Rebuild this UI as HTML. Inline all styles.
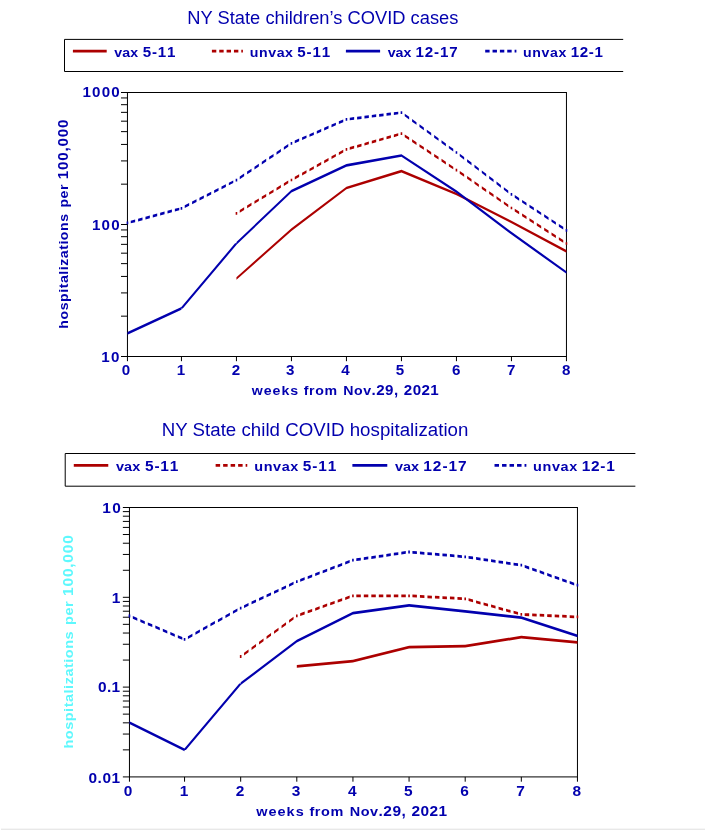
<!DOCTYPE html>
<html lang="en">
<head>
<meta charset="utf-8">
<title>NY State children's COVID cases and hospitalization</title>
<style>
html,body{margin:0;padding:0;background:#fff;}
body{width:705px;height:830px;overflow:hidden;}
svg{display:block;font-family:"Liberation Sans", sans-serif;}
text{white-space:pre;}
</style>
</head>
<body>
<svg width="705" height="830" viewBox="0 0 705 830">
<rect x="0" y="0" width="705" height="830" fill="#fff"/>
<g id="cases">
<text x="187.3" y="23.7" font-size="18.3" textLength="271.1" lengthAdjust="spacing" fill="#0200ae">NY State children’s COVID cases</text>
<path d="M623.2 39.4 H64.5 V71.5 H623.2" fill="none" stroke="#000" stroke-width="1"/>
<path d="M72.9 49.85L106.7 49.85L106.7 52.55L72.9 52.55Z" fill="#ac0000"/>
<text transform="translate(114.24 56.7) scale(1.09 1)" x="0 7.33 14.66 22.21 26.14 34.56 39.88 48.3" y="0" font-size="13" font-weight="bold" fill="#0200ae">vax <tspan font-size="13.9">5-11</tspan></text>
<path d="M211.9 49.85L216.3 49.85L216.3 52.55L211.9 52.55ZM219.25 49.85L223.65 49.85L223.65 52.55L219.25 52.55ZM226.6 49.85L231 49.85L231 52.55L226.6 52.55ZM233.95 49.85L238.35 49.85L238.35 52.55L233.95 52.55ZM241.3 49.85L242.9 49.85L242.9 52.55L241.3 52.55Z" fill="#ac0000"/>
<text transform="translate(249.72 56.7) scale(1.09 1)" x="0 8.48 16.95 24.71 32.48 39.89 43.68 52.2 57.61 66.12" y="0" font-size="13" font-weight="bold" fill="#0200ae">unvax <tspan font-size="13.9">5-11</tspan></text>
<path d="M345.9 49.85L380.1 49.85L380.1 52.55L345.9 52.55Z" fill="#0200ae"/>
<text transform="translate(387.74 56.7) scale(1.09 1)" x="0 7.19 14.38 21.72 25.44 33.98 42.53 47.97 56.51" y="0" font-size="13" font-weight="bold" fill="#0200ae">vax <tspan font-size="13.9">12-17</tspan></text>
<path d="M485.2 49.85L489.6 49.85L489.6 52.55L485.2 52.55ZM492.55 49.85L496.95 49.85L496.95 52.55L492.55 52.55ZM499.9 49.85L504.3 49.85L504.3 52.55L499.9 52.55ZM507.25 49.85L511.65 49.85L511.65 52.55L507.25 52.55ZM514.6 49.85L516.4 49.85L516.4 52.55L514.6 52.55Z" fill="#0200ae"/>
<text transform="translate(522.92 56.7) scale(1.09 1)" x="0 8.5 17 24.78 32.57 40 43.81 52.16 60.51 65.75" y="0" font-size="13" font-weight="bold" fill="#0200ae">unvax <tspan font-size="13.9">12-1</tspan></text>
<rect x="127.45" y="92.5" width="439" height="264" fill="none" stroke="#000" stroke-width="1"/>
<text transform="translate(101.18 362.4) scale(1.09 1)" x="0 9.01" y="0" font-size="13" font-weight="bold" fill="#0200ae"><tspan font-size="13.9">10</tspan></text>
<text transform="translate(91.88 229.9) scale(1.09 1)" x="0 8.86 17.72" y="0" font-size="13" font-weight="bold" fill="#0200ae"><tspan font-size="13.9">100</tspan></text>
<text transform="translate(82.58 97.4) scale(1.09 1)" x="0 8.75 17.5 26.25" y="0" font-size="13" font-weight="bold" fill="#0200ae"><tspan font-size="13.9">1000</tspan></text>
<text transform="translate(121.8 374.7) scale(1.09 1)" x="0" y="0" font-size="13" font-weight="bold" fill="#0200ae"><tspan font-size="13.9">0</tspan></text>
<text transform="translate(176.69 374.7) scale(1.09 1)" x="0" y="0" font-size="13" font-weight="bold" fill="#0200ae"><tspan font-size="13.9">1</tspan></text>
<text transform="translate(231.83 374.7) scale(1.09 1)" x="0" y="0" font-size="13" font-weight="bold" fill="#0200ae"><tspan font-size="13.9">2</tspan></text>
<text transform="translate(285.89 374.7) scale(1.09 1)" x="0" y="0" font-size="13" font-weight="bold" fill="#0200ae"><tspan font-size="13.9">3</tspan></text>
<text transform="translate(341.31 374.7) scale(1.09 1)" x="0" y="0" font-size="13" font-weight="bold" fill="#0200ae"><tspan font-size="13.9">4</tspan></text>
<text transform="translate(395.76 374.7) scale(1.09 1)" x="0" y="0" font-size="13" font-weight="bold" fill="#0200ae"><tspan font-size="13.9">5</tspan></text>
<text transform="translate(451.88 374.7) scale(1.09 1)" x="0" y="0" font-size="13" font-weight="bold" fill="#0200ae"><tspan font-size="13.9">6</tspan></text>
<text transform="translate(506.99 374.7) scale(1.09 1)" x="0" y="0" font-size="13" font-weight="bold" fill="#0200ae"><tspan font-size="13.9">7</tspan></text>
<text transform="translate(561.88 374.7) scale(1.09 1)" x="0" y="0" font-size="13" font-weight="bold" fill="#0200ae"><tspan font-size="13.9">8</tspan></text>
<path d="M121 356.5H127.45 M121 316.16H127.45 M121 292.92H127.45 M121 276.43H127.45 M121 263.64H127.45 M121 253.18H127.45 M121 244.35H127.45 M121 236.69H127.45 M121 229.94H127.45 M121 224.5H127.45 M121 184.16H127.45 M121 160.92H127.45 M121 144.43H127.45 M121 131.64H127.45 M121 121.18H127.45 M121 112.35H127.45 M121 104.69H127.45 M121 97.94H127.45 M121 92.5H127.45 M127.45 356.5V361.2 M181.45 356.5V361.2 M236.45 356.5V361.2 M291.45 356.5V361.2 M346.45 356.5V361.2 M401.45 356.5V361.2 M456.45 356.5V361.2 M511.45 356.5V361.2 M566.45 356.5V361.2" fill="none" stroke="#000" stroke-width="1"/>
<text transform="translate(251.64 395) scale(1.09 1)" x="0 11.03 19.17 27.32 35.47 43.49 47.9 52.73 58.29 66.73 79.41 84.14 93.96 102.33 109.99 114.28 122.45 130.61 135.26 139.66 147.74 155.82 163.9" y="0" font-size="13" font-weight="bold" fill="#0200ae">weeks from Nov<tspan font-size="13.9">.29,</tspan> <tspan font-size="13.9">2021</tspan></text>
<text transform="translate(68 328.64) rotate(-90) scale(1.09 1)" x="0 8.41 16.82 24.52 32.92 37 41.8 49.5 53.58 57.66 64.63 72.32 77.12 81.2 89.61 98.02 106.37 111.11 119.5 127.19 132.9 137.17 145.62 154.06 162.51 167.09 175.53 183.98" y="0" font-size="13" font-weight="bold" fill="#0200ae">hospitalizations per <tspan font-size="13.9">100,000</tspan></text>
<path d="M236.45 277.15L291.45 228.25L291.45 230.95L236.45 279.85ZM291.45 228.25L346.45 186.65L346.45 189.35L291.45 230.95ZM346.45 186.65L401.45 169.85L401.45 172.55L346.45 189.35ZM401.45 169.85L456.45 192.65L456.45 195.35L401.45 172.55ZM456.45 192.65L511.45 220.65L511.45 223.35L456.45 195.35ZM511.45 220.65L566.45 250.05L566.45 252.75L511.45 223.35Z" fill="#ac0000"/>
<path d="M239.75 209.95L244.15 207.29L244.15 209.99L239.75 212.65ZM247.1 205.5L251.5 202.84L251.5 205.54L247.1 208.2ZM254.45 201.05L258.85 198.39L258.85 201.09L254.45 203.75ZM261.8 196.6L266.2 193.94L266.2 196.64L261.8 199.3ZM269.15 192.15L273.55 189.49L273.55 192.19L269.15 194.85ZM276.5 187.7L280.9 185.04L280.9 187.74L276.5 190.4ZM283.85 183.25L288.25 180.59L288.25 183.29L283.85 185.95ZM291.2 178.8L291.45 178.65L291.45 181.35L291.2 181.5ZM294.75 176.81L299.15 174.37L299.15 177.07L294.75 179.51ZM302.1 172.72L306.5 170.28L306.5 172.98L302.1 175.42ZM309.45 168.64L313.85 166.19L313.85 168.89L309.45 171.34ZM316.8 164.55L321.2 162.1L321.2 164.8L316.8 167.25ZM324.15 160.46L328.55 158.01L328.55 160.71L324.15 163.16ZM331.5 156.37L335.9 153.92L335.9 156.62L331.5 159.07ZM338.85 152.28L343.25 149.83L343.25 152.53L338.85 154.98ZM346.2 148.19L346.45 148.05L346.45 150.75L346.2 150.89ZM349.75 147.1L354.15 145.84L354.15 148.54L349.75 149.8ZM357.1 144.99L361.5 143.73L361.5 146.43L357.1 147.69ZM364.45 142.88L368.85 141.62L368.85 144.32L364.45 145.58ZM371.8 140.77L376.2 139.5L376.2 142.2L371.8 143.47ZM379.15 138.66L383.55 137.39L383.55 140.09L379.15 141.36ZM386.5 136.54L390.9 135.28L390.9 137.98L386.5 139.24ZM393.85 134.43L398.25 133.17L398.25 135.87L393.85 137.13ZM401.2 132.32L401.45 132.25L401.45 134.95L401.2 135.02ZM404.75 134.44L409.15 137.36L409.15 140.06L404.75 137.14ZM412.1 139.32L416.5 142.24L416.5 144.94L412.1 142.02ZM419.45 144.2L423.85 147.12L423.85 149.82L419.45 146.9ZM426.8 149.07L431.2 151.99L431.2 154.69L426.8 151.77ZM434.15 153.95L438.55 156.87L438.55 159.57L434.15 156.65ZM441.5 158.83L445.9 161.75L445.9 164.45L441.5 161.53ZM448.85 163.71L453.25 166.63L453.25 169.33L448.85 166.41ZM456.2 168.58L456.45 168.75L456.45 171.45L456.2 171.28ZM459.75 171.02L464.15 174.06L464.15 176.76L459.75 173.72ZM467.1 176.09L471.5 179.12L471.5 181.82L467.1 178.79ZM474.45 181.15L478.85 184.19L478.85 186.89L474.45 183.85ZM481.8 186.22L486.2 189.25L486.2 191.95L481.8 188.92ZM489.15 191.28L493.55 194.32L493.55 197.02L489.15 193.98ZM496.5 196.35L500.9 199.38L500.9 202.08L496.5 199.05ZM503.85 201.41L508.25 204.44L508.25 207.14L503.85 204.11ZM511.2 206.48L511.45 206.65L511.45 209.35L511.2 209.18ZM514.75 208.78L519.15 211.62L519.15 214.32L514.75 211.48ZM522.1 213.52L526.5 216.36L526.5 219.06L522.1 216.22ZM529.45 218.27L533.85 221.11L533.85 223.81L529.45 220.97ZM536.8 223.01L541.2 225.85L541.2 228.55L536.8 225.71ZM544.15 227.76L548.55 230.6L548.55 233.3L544.15 230.46ZM551.5 232.5L555.9 235.34L555.9 238.04L551.5 235.2ZM558.85 237.24L563.25 240.08L563.25 242.78L558.85 239.94ZM566.2 241.99L566.45 242.15L566.45 244.85L566.2 244.69ZM235.65 211.95L237.25 211.95L237.25 214.65L235.65 214.65ZM290.65 178.65L292.25 178.65L292.25 181.35L290.65 181.35ZM345.65 148.05L347.25 148.05L347.25 150.75L345.65 150.75ZM400.65 132.25L402.25 132.25L402.25 134.95L400.65 134.95ZM455.65 168.75L457.25 168.75L457.25 171.45L455.65 171.45ZM510.65 206.65L512.25 206.65L512.25 209.35L510.65 209.35ZM565.65 242.15L567.25 242.15L567.25 244.85L565.65 244.85Z" fill="#ac0000"/>
<path d="M127.45 332.05L181.45 307.05L181.45 309.75L127.45 334.75ZM180.1 308.4L235.1 243.3L237.8 243.3L182.8 308.4ZM236.45 241.95L291.45 189.85L291.45 192.55L236.45 244.65ZM291.45 189.85L346.45 164.05L346.45 166.75L291.45 192.55ZM346.45 164.05L401.45 154.15L401.45 156.85L346.45 166.75ZM401.45 154.15L456.45 190.35L456.45 193.05L401.45 156.85ZM456.45 190.35L511.45 231.85L511.45 234.55L456.45 193.05ZM511.45 231.85L566.45 271.15L566.45 273.85L511.45 234.55Z" fill="#0200ae"/>
<path d="M130.75 220.66L135.15 219.48L135.15 222.18L130.75 223.36ZM138.1 218.69L142.5 217.51L142.5 220.21L138.1 221.39ZM145.45 216.72L149.85 215.54L149.85 218.24L145.45 219.42ZM152.8 214.74L157.2 213.56L157.2 216.26L152.8 217.44ZM160.15 212.77L164.55 211.59L164.55 214.29L160.15 215.47ZM167.5 210.8L171.9 209.61L171.9 212.31L167.5 213.5ZM174.85 208.82L179.25 207.64L179.25 210.34L174.85 211.52ZM184.75 205.35L189.15 203.09L189.15 205.79L184.75 208.05ZM192.1 201.57L196.5 199.31L196.5 202.01L192.1 204.27ZM199.45 197.79L203.85 195.52L203.85 198.22L199.45 200.49ZM206.8 194.01L211.2 191.74L211.2 194.44L206.8 196.71ZM214.15 190.22L218.55 187.96L218.55 190.66L214.15 192.92ZM221.5 186.44L225.9 184.18L225.9 186.88L221.5 189.14ZM228.85 182.66L233.25 180.4L233.25 183.1L228.85 185.36ZM236.2 178.88L236.45 178.75L236.45 181.45L236.2 181.58ZM239.75 176.54L244.15 173.6L244.15 176.3L239.75 179.24ZM247.1 171.62L251.5 168.68L251.5 171.38L247.1 174.32ZM254.45 166.71L258.85 163.76L258.85 166.46L254.45 169.41ZM261.8 161.79L266.2 158.84L266.2 161.54L261.8 164.49ZM269.15 156.87L273.55 153.93L273.55 156.63L269.15 159.57ZM276.5 151.95L280.9 149.01L280.9 151.71L276.5 154.65ZM283.85 147.04L288.25 144.09L288.25 146.79L283.85 149.74ZM291.2 142.12L291.45 141.95L291.45 144.65L291.2 144.82ZM294.75 140.52L299.15 138.6L299.15 141.3L294.75 143.22ZM302.1 137.32L306.5 135.41L306.5 138.11L302.1 140.02ZM309.45 134.13L313.85 132.22L313.85 134.92L309.45 136.83ZM316.8 130.93L321.2 129.02L321.2 131.72L316.8 133.63ZM324.15 127.74L328.55 125.83L328.55 128.53L324.15 130.44ZM331.5 124.55L335.9 122.63L335.9 125.33L331.5 127.25ZM338.85 121.35L343.25 119.44L343.25 122.14L338.85 124.05ZM346.2 118.16L346.45 118.05L346.45 120.75L346.2 120.86ZM349.75 117.64L354.15 117.1L354.15 119.8L349.75 120.34ZM357.1 116.73L361.5 116.19L361.5 118.89L357.1 119.43ZM364.45 115.82L368.85 115.28L368.85 117.98L364.45 118.52ZM371.8 114.92L376.2 114.37L376.2 117.07L371.8 117.62ZM379.15 114.01L383.55 113.46L383.55 116.16L379.15 116.71ZM386.5 113.1L390.9 112.55L390.9 115.25L386.5 115.8ZM393.85 112.19L398.25 111.65L398.25 114.35L393.85 114.89ZM401.2 111.28L401.45 111.25L401.45 113.95L401.2 113.98ZM404.75 113.64L409.15 116.84L409.15 119.54L404.75 116.34ZM412.1 118.98L416.5 122.17L416.5 124.87L412.1 121.68ZM419.45 124.31L423.85 127.5L423.85 130.2L419.45 127.01ZM426.8 129.64L431.2 132.83L431.2 135.53L426.8 132.34ZM434.15 134.97L438.55 138.16L438.55 140.86L434.15 137.67ZM441.5 140.3L445.9 143.5L445.9 146.2L441.5 143ZM448.85 145.64L453.25 148.83L453.25 151.53L448.85 148.34ZM456.2 150.97L456.45 151.15L456.45 153.85L456.2 153.67ZM459.75 153.66L464.15 157L464.15 159.7L459.75 156.36ZM467.1 159.24L471.5 162.59L471.5 165.29L467.1 161.94ZM474.45 164.83L478.85 168.17L478.85 170.87L474.45 167.53ZM481.8 170.42L486.2 173.76L486.2 176.46L481.8 173.12ZM489.15 176L493.55 179.35L493.55 182.05L489.15 178.7ZM496.5 181.59L500.9 184.93L500.9 187.63L496.5 184.29ZM503.85 187.17L508.25 190.52L508.25 193.22L503.85 189.87ZM511.2 192.76L511.45 192.95L511.45 195.65L511.2 195.46ZM514.75 195.11L519.15 197.99L519.15 200.69L514.75 197.81ZM522.1 199.92L526.5 202.8L526.5 205.5L522.1 202.62ZM529.45 204.73L533.85 207.61L533.85 210.31L529.45 207.43ZM536.8 209.54L541.2 212.42L541.2 215.12L536.8 212.24ZM544.15 214.35L548.55 217.23L548.55 219.93L544.15 217.05ZM551.5 219.16L555.9 222.04L555.9 224.74L551.5 221.86ZM558.85 223.98L563.25 226.86L563.25 229.56L558.85 226.68ZM566.2 228.79L566.45 228.95L566.45 231.65L566.2 231.49ZM126.65 221.55L128.25 221.55L128.25 224.25L126.65 224.25ZM180.65 207.05L182.25 207.05L182.25 209.75L180.65 209.75ZM235.65 178.75L237.25 178.75L237.25 181.45L235.65 181.45ZM290.65 141.95L292.25 141.95L292.25 144.65L290.65 144.65ZM345.65 118.05L347.25 118.05L347.25 120.75L345.65 120.75ZM400.65 111.25L402.25 111.25L402.25 113.95L400.65 113.95ZM455.65 151.15L457.25 151.15L457.25 153.85L455.65 153.85ZM510.65 192.95L512.25 192.95L512.25 195.65L510.65 195.65ZM565.65 228.95L567.25 228.95L567.25 231.65L565.65 231.65Z" fill="#0200ae"/>
</g>
<g id="hosp">
<text x="161.65" y="436.47" font-size="18.68" textLength="306.76" lengthAdjust="spacing" fill="#0200ae">NY State child COVID hospitalization</text>
<path d="M635.36 453.5 H65.21 V486.2 H635.36" fill="none" stroke="#000" stroke-width="1"/>
<path d="M73.78 463.97L108.27 463.97L108.27 466.73L73.78 466.73Z" fill="#ac0000"/>
<text transform="translate(115.97 471.47) scale(1.1123 1.0205)" x="0 7.33 14.66 22.21 26.14 34.56 39.88 48.3" y="0" font-size="13" font-weight="bold" fill="#0200ae">vax <tspan font-size="13.9">5-11</tspan></text>
<path d="M215.63 463.97L220.12 463.97L220.12 466.73L215.63 466.73ZM223.13 463.97L227.62 463.97L227.62 466.73L223.13 466.73ZM230.63 463.97L235.12 463.97L235.12 466.73L230.63 466.73ZM238.13 463.97L242.62 463.97L242.62 466.73L238.13 466.73ZM245.63 463.97L247.27 463.97L247.27 466.73L245.63 466.73Z" fill="#ac0000"/>
<text transform="translate(254.23 471.47) scale(1.1123 1.0205)" x="0 8.48 16.95 24.71 32.48 39.89 43.68 52.2 57.61 66.12" y="0" font-size="13" font-weight="bold" fill="#0200ae">unvax <tspan font-size="13.9">5-11</tspan></text>
<path d="M352.38 463.97L387.28 463.97L387.28 466.73L352.38 466.73Z" fill="#0200ae"/>
<text transform="translate(395.08 471.47) scale(1.1123 1.0205)" x="0 7.19 14.38 21.72 25.44 33.98 42.53 47.97 56.51" y="0" font-size="13" font-weight="bold" fill="#0200ae">vax <tspan font-size="13.9">12-17</tspan></text>
<path d="M494.53 463.97L499.02 463.97L499.02 466.73L494.53 466.73ZM502.03 463.97L506.52 463.97L506.52 466.73L502.03 466.73ZM509.53 463.97L514.02 463.97L514.02 466.73L509.53 466.73ZM517.03 463.97L521.52 463.97L521.52 466.73L517.03 466.73ZM524.54 463.97L526.37 463.97L526.37 466.73L524.54 466.73Z" fill="#0200ae"/>
<text transform="translate(533.03 471.47) scale(1.1123 1.0205)" x="0 8.5 17 24.78 32.57 40 43.81 52.16 60.51 65.75" y="0" font-size="13" font-weight="bold" fill="#0200ae">unvax <tspan font-size="13.9">12-1</tspan></text>
<rect x="129.45" y="507.5" width="448" height="269.41" fill="none" stroke="#000" stroke-width="1"/>
<text transform="translate(88.39 782.73) scale(1.1123 1.0205)" x="0 8.24 12.61 20.84" y="0" font-size="13" font-weight="bold" fill="#0200ae"><tspan font-size="13.9">0.01</tspan></text>
<text transform="translate(98.04 692.41) scale(1.1123 1.0205)" x="0 8.02 12.17" y="0" font-size="13" font-weight="bold" fill="#0200ae"><tspan font-size="13.9">0.1</tspan></text>
<text transform="translate(111.72 602.61) scale(1.1123 1.0205)" x="0" y="0" font-size="13" font-weight="bold" fill="#0200ae"><tspan font-size="13.9">1</tspan></text>
<text transform="translate(102.26 513.31) scale(1.1123 1.0205)" x="0 8.88" y="0" font-size="13" font-weight="bold" fill="#0200ae"><tspan font-size="13.9">10</tspan></text>
<text transform="translate(123.78 796.3) scale(1.1123 1.0205)" x="0" y="0" font-size="13" font-weight="bold" fill="#0200ae"><tspan font-size="13.9">0</tspan></text>
<text transform="translate(179.8 796.3) scale(1.1123 1.0205)" x="0" y="0" font-size="13" font-weight="bold" fill="#0200ae"><tspan font-size="13.9">1</tspan></text>
<text transform="translate(235.66 796.3) scale(1.1123 1.0205)" x="0" y="0" font-size="13" font-weight="bold" fill="#0200ae"><tspan font-size="13.9">2</tspan></text>
<text transform="translate(291.85 796.3) scale(1.1123 1.0205)" x="0" y="0" font-size="13" font-weight="bold" fill="#0200ae"><tspan font-size="13.9">3</tspan></text>
<text transform="translate(348 796.3) scale(1.1123 1.0205)" x="0" y="0" font-size="13" font-weight="bold" fill="#0200ae"><tspan font-size="13.9">4</tspan></text>
<text transform="translate(403.98 796.3) scale(1.1123 1.0205)" x="0" y="0" font-size="13" font-weight="bold" fill="#0200ae"><tspan font-size="13.9">5</tspan></text>
<text transform="translate(460.33 796.3) scale(1.1123 1.0205)" x="0" y="0" font-size="13" font-weight="bold" fill="#0200ae"><tspan font-size="13.9">6</tspan></text>
<text transform="translate(516.26 796.3) scale(1.1123 1.0205)" x="0" y="0" font-size="13" font-weight="bold" fill="#0200ae"><tspan font-size="13.9">7</tspan></text>
<text transform="translate(572.58 796.3) scale(1.1123 1.0205)" x="0" y="0" font-size="13" font-weight="bold" fill="#0200ae"><tspan font-size="13.9">8</tspan></text>
<path d="M122.87 776.91H129.45 M122.87 749.87H129.45 M122.87 734.06H129.45 M122.87 722.84H129.45 M122.87 714.14H129.45 M122.87 707.03H129.45 M122.87 701.02H129.45 M122.87 695.81H129.45 M122.87 691.21H129.45 M122.87 687.1H129.45 M122.87 660.07H129.45 M122.87 644.26H129.45 M122.87 633.04H129.45 M122.87 624.33H129.45 M122.87 617.22H129.45 M122.87 611.21H129.45 M122.87 606H129.45 M122.87 601.41H129.45 M122.87 597.3H129.45 M122.87 570.27H129.45 M122.87 554.45H129.45 M122.87 543.23H129.45 M122.87 534.53H129.45 M122.87 527.42H129.45 M122.87 521.41H129.45 M122.87 516.2H129.45 M122.87 511.61H129.45 M122.87 507.5H129.45 M129.45 776.91V781.7 M184.56 776.91V781.7 M240.68 776.91V781.7 M296.81 776.91V781.7 M352.94 776.91V781.7 M409.07 776.91V781.7 M465.19 776.91V781.7 M521.32 776.91V781.7 M577.45 776.91V781.7" fill="none" stroke="#000" stroke-width="1"/>
<text transform="translate(256.19 816.45) scale(1.1123 1.0205)" x="0 11.03 19.17 27.32 35.47 43.49 47.9 52.73 58.29 66.73 79.41 84.14 93.96 102.33 109.99 114.28 122.45 130.61 135.26 139.66 147.74 155.82 163.9" y="0" font-size="13" font-weight="bold" fill="#0200ae">weeks from Nov<tspan font-size="13.9">.29,</tspan> <tspan font-size="13.9">2021</tspan></text>
<text transform="translate(73.3 748.48) rotate(-90) scale(1.1123 1.0205)" x="0 8.41 16.82 24.52 32.92 37 41.8 49.5 53.58 57.66 64.63 72.32 77.12 81.2 89.61 98.02 106.37 111.11 119.5 127.19 132.9 137.17 145.62 154.06 162.51 167.09 175.53 183.98" y="0" font-size="13" font-weight="bold" fill="#5ef8fd">hospitalizations per <tspan font-size="13.9">100,000</tspan></text>
<path d="M296.81 665.02L352.94 659.82L352.94 662.58L296.81 667.78ZM352.94 659.82L409.07 645.72L409.07 648.48L352.94 662.58ZM409.07 645.72L465.19 644.82L465.19 647.58L409.07 648.48ZM465.19 644.82L521.32 635.72L521.32 638.48L465.19 647.58ZM521.32 635.72L577.45 640.92L577.45 643.68L521.32 638.48Z" fill="#ac0000"/>
<path d="M244.05 652.68L248.54 649.42L248.54 652.18L244.05 655.44ZM251.55 647.24L256.04 643.99L256.04 646.74L251.55 650ZM259.05 641.8L263.54 638.55L263.54 641.3L259.05 644.56ZM266.55 636.36L271.04 633.11L271.04 635.86L266.55 639.12ZM274.05 630.92L278.54 627.67L278.54 630.42L274.05 633.68ZM281.55 625.49L286.04 622.23L286.04 624.98L281.55 628.24ZM289.05 620.05L293.55 616.79L293.55 619.55L289.05 622.8ZM296.56 614.61L296.81 614.42L296.81 617.18L296.56 617.36ZM300.18 613.22L304.67 611.62L304.67 614.38L300.18 615.98ZM307.68 610.55L312.17 608.95L312.17 611.7L307.68 613.3ZM315.18 607.88L319.67 606.28L319.67 609.03L315.18 610.63ZM322.68 605.2L327.17 603.6L327.17 606.36L322.68 607.96ZM330.18 602.53L334.67 600.93L334.67 603.69L330.18 605.29ZM337.68 599.86L342.17 598.26L342.17 601.01L337.68 602.61ZM345.18 597.19L349.67 595.59L349.67 598.34L345.18 599.94ZM352.68 594.51L352.94 594.42L352.94 597.18L352.68 597.27ZM356.31 594.42L360.8 594.42L360.8 597.18L356.31 597.18ZM363.81 594.42L368.3 594.42L368.3 597.18L363.81 597.18ZM371.31 594.42L375.8 594.42L375.8 597.18L371.31 597.18ZM378.81 594.42L383.3 594.42L383.3 597.18L378.81 597.18ZM386.31 594.42L390.8 594.42L390.8 597.18L386.31 597.18ZM393.81 594.42L398.3 594.42L398.3 597.18L393.81 597.18ZM401.31 594.42L405.8 594.42L405.8 597.18L401.31 597.18ZM408.81 594.42L409.07 594.42L409.07 597.18L408.81 597.18ZM412.43 594.6L416.92 594.84L416.92 597.6L412.43 597.36ZM419.93 595L424.42 595.24L424.42 598L419.93 597.76ZM427.43 595.4L431.92 595.64L431.92 598.4L427.43 598.16ZM434.94 595.81L439.43 596.05L439.43 598.8L434.94 598.56ZM442.44 596.21L446.93 596.45L446.93 599.2L442.44 598.96ZM449.94 596.61L454.43 596.85L454.43 599.6L449.94 599.36ZM457.44 597.01L461.93 597.25L461.93 600L457.44 599.76ZM464.94 597.41L465.19 597.42L465.19 600.18L464.94 600.16ZM468.56 598.36L473.05 599.61L473.05 602.36L468.56 601.11ZM476.06 600.44L480.55 601.69L480.55 604.45L476.06 603.2ZM483.56 602.53L488.05 603.78L488.05 606.53L483.56 605.28ZM491.06 604.61L495.55 605.86L495.55 608.62L491.06 607.37ZM498.56 606.7L503.05 607.95L503.05 610.7L498.56 609.45ZM506.06 608.78L510.55 610.03L510.55 612.79L506.06 611.54ZM513.56 610.87L518.06 612.11L518.06 614.87L513.56 613.62ZM521.07 612.95L521.32 613.02L521.32 615.78L521.07 615.71ZM524.69 613.17L529.18 613.37L529.18 616.13L524.69 615.93ZM532.19 613.51L536.68 613.71L536.68 616.46L532.19 616.26ZM539.69 613.84L544.18 614.04L544.18 616.8L539.69 616.6ZM547.19 614.17L551.68 614.37L551.68 617.13L547.19 616.93ZM554.69 614.51L559.18 614.71L559.18 617.46L554.69 617.26ZM562.19 614.84L566.68 615.04L566.68 617.8L562.19 617.6ZM569.69 615.18L574.18 615.38L574.18 618.13L569.69 617.93ZM577.19 615.51L577.45 615.52L577.45 618.28L577.19 618.27ZM239.87 655.12L241.5 655.12L241.5 657.88L239.87 657.88ZM295.99 614.42L297.63 614.42L297.63 617.18L295.99 617.18ZM352.12 594.42L353.75 594.42L353.75 597.18L352.12 597.18ZM408.25 594.42L409.88 594.42L409.88 597.18L408.25 597.18ZM464.38 597.42L466.01 597.42L466.01 600.18L464.38 600.18ZM520.5 613.02L522.14 613.02L522.14 615.78L520.5 615.78ZM576.63 615.52L578.26 615.52L578.26 618.28L576.63 618.28Z" fill="#ac0000"/>
<path d="M129.45 721.32L184.56 748.52L184.56 751.28L129.45 724.08ZM183.18 749.9L239.31 683.6L242.06 683.6L185.93 749.9ZM240.68 682.22L296.81 639.82L296.81 642.58L240.68 684.98ZM296.81 639.82L352.94 611.72L352.94 614.48L296.81 642.58ZM352.94 611.72L409.07 604.02L409.07 606.78L352.94 614.48ZM409.07 604.02L465.19 609.92L465.19 612.68L409.07 606.78ZM465.19 609.92L521.32 616.22L521.32 618.98L465.19 612.68ZM521.32 616.22L577.45 634.42L577.45 637.18L521.32 618.98Z" fill="#0200ae"/>
<path d="M132.82 616.05L137.31 617.96L137.31 620.71L132.82 618.81ZM140.32 619.24L144.81 621.14L144.81 623.9L140.32 621.99ZM147.82 622.42L152.31 624.33L152.31 627.08L147.82 625.18ZM155.32 625.61L159.81 627.51L159.81 630.27L155.32 628.36ZM162.82 628.79L167.31 630.7L167.31 633.45L162.82 631.55ZM170.32 631.98L174.81 633.88L174.81 636.64L170.32 634.73ZM177.82 635.16L182.31 637.07L182.31 639.82L177.82 637.92ZM187.92 636.14L192.41 633.64L192.41 636.4L187.92 638.9ZM195.42 631.96L199.91 629.46L199.91 632.21L195.42 634.72ZM202.92 627.78L207.41 625.27L207.41 628.03L202.92 630.53ZM210.43 623.6L214.92 621.09L214.92 623.85L210.43 626.35ZM217.93 619.41L222.42 616.91L222.42 619.66L217.93 622.17ZM225.43 615.23L229.92 612.73L229.92 615.48L225.43 617.99ZM232.93 611.05L237.42 608.54L237.42 611.3L232.93 613.8ZM240.43 606.86L240.68 606.72L240.68 609.48L240.43 609.62ZM244.05 605.14L248.54 603.03L248.54 605.78L244.05 607.89ZM251.55 601.61L256.04 599.5L256.04 602.25L251.55 604.37ZM259.05 598.08L263.54 595.97L263.54 598.73L259.05 600.84ZM266.55 594.55L271.04 592.44L271.04 595.2L266.55 597.31ZM274.05 591.03L278.54 588.91L278.54 591.67L274.05 593.78ZM281.55 587.5L286.04 585.39L286.04 588.14L281.55 590.25ZM289.05 583.97L293.55 581.86L293.55 584.61L289.05 586.73ZM296.56 580.44L296.81 580.32L296.81 583.08L296.56 583.2ZM300.18 579.03L304.67 577.31L304.67 580.07L300.18 581.79ZM307.68 576.16L312.17 574.44L312.17 577.19L307.68 578.91ZM315.18 573.29L319.67 571.57L319.67 574.32L315.18 576.04ZM322.68 570.41L327.17 568.69L327.17 571.45L322.68 573.17ZM330.18 567.54L334.67 565.82L334.67 568.57L330.18 570.29ZM337.68 564.67L342.17 562.95L342.17 565.7L337.68 567.42ZM345.18 561.79L349.67 560.07L349.67 562.83L345.18 564.55ZM352.68 558.92L352.94 558.82L352.94 561.58L352.68 561.68ZM356.31 558.33L360.8 557.67L360.8 560.43L356.31 561.09ZM363.81 557.23L368.3 556.58L368.3 559.33L363.81 559.99ZM371.31 556.14L375.8 555.48L375.8 558.24L371.31 558.89ZM378.81 555.04L383.3 554.39L383.3 557.14L378.81 557.8ZM386.31 553.95L390.8 553.29L390.8 556.05L386.31 556.7ZM393.81 552.85L398.3 552.2L398.3 554.95L393.81 555.61ZM401.31 551.76L405.8 551.1L405.8 553.85L401.31 554.51ZM408.81 550.66L409.07 550.62L409.07 553.38L408.81 553.41ZM412.43 550.91L416.92 551.29L416.92 554.05L412.43 553.67ZM419.93 551.55L424.42 551.94L424.42 554.69L419.93 554.31ZM427.43 552.19L431.92 552.58L431.92 555.33L427.43 554.95ZM434.94 552.83L439.43 553.22L439.43 555.97L434.94 555.59ZM442.44 553.48L446.93 553.86L446.93 556.62L442.44 556.23ZM449.94 554.12L454.43 554.5L454.43 557.26L449.94 556.87ZM457.44 554.76L461.93 555.14L461.93 557.9L457.44 557.51ZM464.94 555.4L465.19 555.42L465.19 558.18L464.94 558.16ZM468.56 555.93L473.05 556.6L473.05 559.35L468.56 558.68ZM476.06 557.05L480.55 557.72L480.55 560.48L476.06 559.8ZM483.56 558.17L488.05 558.84L488.05 561.6L483.56 560.93ZM491.06 559.29L495.55 559.97L495.55 562.72L491.06 562.05ZM498.56 560.42L503.05 561.09L503.05 563.84L498.56 563.17ZM506.06 561.54L510.55 562.21L510.55 564.97L506.06 564.29ZM513.56 562.66L518.06 563.33L518.06 566.09L513.56 565.42ZM521.07 563.78L521.32 563.82L521.32 566.58L521.07 566.54ZM524.69 565.02L529.18 566.62L529.18 569.38L524.69 567.78ZM532.19 567.7L536.68 569.3L536.68 572.05L532.19 570.45ZM539.69 570.37L544.18 571.97L544.18 574.72L539.69 573.12ZM547.19 573.04L551.68 574.64L551.68 577.4L547.19 575.8ZM554.69 575.71L559.18 577.31L559.18 580.07L554.69 578.47ZM562.19 578.39L566.68 579.99L566.68 582.74L562.19 581.14ZM569.69 581.06L574.18 582.66L574.18 585.41L569.69 583.81ZM577.19 583.73L577.45 583.82L577.45 586.58L577.19 586.49ZM128.63 614.62L130.27 614.62L130.27 617.38L128.63 617.38ZM183.74 638.02L185.37 638.02L185.37 640.78L183.74 640.78ZM239.87 606.72L241.5 606.72L241.5 609.48L239.87 609.48ZM295.99 580.32L297.63 580.32L297.63 583.08L295.99 583.08ZM352.12 558.82L353.75 558.82L353.75 561.58L352.12 561.58ZM408.25 550.62L409.88 550.62L409.88 553.38L408.25 553.38ZM464.38 555.42L466.01 555.42L466.01 558.18L464.38 558.18ZM520.5 563.82L522.14 563.82L522.14 566.58L520.5 566.58ZM576.63 583.82L578.26 583.82L578.26 586.58L576.63 586.58Z" fill="#0200ae"/>
</g>
<rect x="1" y="828.6" width="704" height="1.4" fill="#e8e8e8"/>
</svg>
</body>
</html>
